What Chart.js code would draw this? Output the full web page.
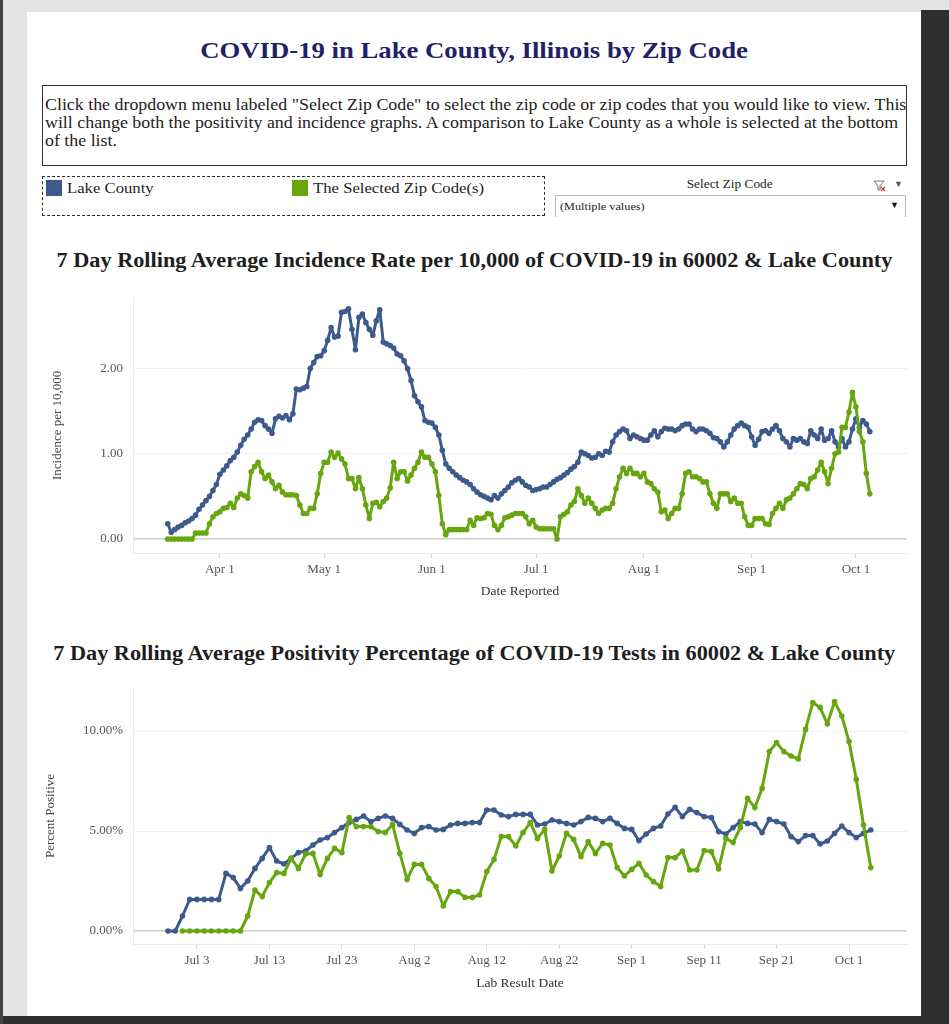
<!DOCTYPE html>
<html>
<head>
<meta charset="utf-8">
<script src="https://cdn.jsdelivr.net/npm/chart.js@4.4.1/dist/chart.umd.min.js"></script>
<style>
  body { margin: 0; width: 949px; height: 1024px; background: #e4e4e4; position: relative; overflow: hidden; font-family: "Liberation Serif", "Times New Roman", serif; }
  .abs { position: absolute; }
  .wide { display: inline-block; transform: scaleX(1.113); transform-origin: left center; white-space: nowrap; }
  .wideC { display: inline-block; transform: scaleX(1.113); transform-origin: center center; white-space: nowrap; }
  #panel { left: 27px; top: 12px; width: 894px; height: 1004px; background: #fff; }
  #rightStrip { left: 921px; top: 10px; width: 28px; height: 1014px; background: #2e2e2e; }
  #bottomStrip { left: 0; top: 1016px; width: 949px; height: 8px; background: #2e2e2e; }
  #leftStrip { left: 0; top: 0; width: 3px; height: 1024px; background: #444; }
  #mainTitle { left: 27px; width: 894px; top: 35px; text-align: center; font-size: 24px; font-weight: bold; color: #1f2266; line-height: 30px; }
  #info { left: 42px; top: 85px; width: 865px; height: 81px; border: 1px solid #333; box-sizing: border-box; overflow: hidden; }
  #infoText { left: 2px; top: 10px; font-size: 16px; line-height: 18px; color: #222; transform: scaleX(1.117); transform-origin: left top; white-space: nowrap; }
  #legendBox { left: 42px; top: 176px; width: 503px; height: 40px; border: 1px dashed #333; box-sizing: border-box; }
  .sw { width: 16px; height: 16px; }
  .lg { font-size: 15px; color: #222; line-height: 18px; }
  #zipLabel { left: 640px; width: 180px; top: 177px; text-align: center; font-size: 12px; color: #222; }
  #dropdown { left: 555px; top: 195px; width: 351px; height: 22px; border: 1px solid #bbb; border-bottom: none; box-sizing: border-box; }
  #ddText { left: 4px; top: 4px; font-size: 11px; color: #222; }
  #ddArrow { right: 6px; top: 4px; font-size: 9px; color: #111; }
  .chartTitle { left: 27px; width: 894px; text-align: center; font-size: 20px; font-weight: bold; color: #1e1e1e; line-height: 24px; }
  .chartBox { left: 30px; width: 890px; }
</style>
</head>
<body>
<div class="abs" id="panel"></div>
<div class="abs" id="rightStrip"></div>
<div class="abs" id="bottomStrip"></div>
<div class="abs" id="leftStrip"></div>

<div class="abs" id="mainTitle"><span class="wideC">COVID-19 in Lake County, Illinois by Zip Code</span></div>
<div class="abs" id="info">
  <div class="abs" id="infoText">Click the dropdown menu labeled "Select Zip Code" to select the zip code or zip codes that you would like to view. This<br>will change both the positivity and incidence graphs. A comparison to Lake County as a whole is selected at the bottom<br>of the list.</div>
</div>

<div class="abs" id="legendBox"></div>
<div class="abs sw" style="left:46px;top:180px;background:#3d5a8c;"></div>
<div class="abs lg" style="left:67px;top:179px;"><span class="wide">Lake County</span></div>
<div class="abs sw" style="left:292px;top:180px;background:#67a60f;"></div>
<div class="abs lg" style="left:313px;top:179px;"><span class="wide">The Selected Zip Code(s)</span></div>

<div class="abs" id="zipLabel"><span class="wideC">Select Zip Code</span></div>
<svg class="abs" style="left:873px;top:179px;" width="14" height="14" viewBox="0 0 14 14">
  <path d="M1 2 L11 2 L7 7 L7 11 L5 11 L5 7 Z" fill="none" stroke="#777" stroke-width="1"/>
  <path d="M8 8 L12 12 M12 8 L8 12" stroke="#d33" stroke-width="1.2"/>
</svg>
<div class="abs" style="left:894px;top:179px;font-size:9px;color:#555;">&#9660;</div>
<div class="abs" id="dropdown">
  <div class="abs" id="ddText"><span class="wide">(Multiple values)</span></div>
  <div class="abs" id="ddArrow">&#9660;</div>
</div>

<div class="abs chartTitle" style="top:248px;"><span class="wideC">7 Day Rolling Average Incidence Rate per 10,000 of COVID-19 in 60002 &amp; Lake County</span></div>
<div class="abs chartBox" style="top:280px;height:330px;"><canvas id="incChart"></canvas></div>

<div class="abs chartTitle" style="top:641px;"><span class="wideC">7 Day Rolling Average Positivity Percentage of COVID-19 Tests in 60002 &amp; Lake County</span></div>
<div class="abs chartBox" style="top:670px;height:335px;"><canvas id="posChart"></canvas></div>

<script>
// days are counted from Jan 1 2020 (Jan 1 = 0)
const incStartDay = 76; // Mar 17
const incLake = [
  0.18,0.08,0.11,0.14,0.16,0.19,0.21,0.24,0.28,0.35,
  0.40,0.45,0.50,0.57,0.64,0.76,0.81,0.86,0.92,0.96,
  1.02,1.10,1.17,1.22,1.29,1.37,1.40,1.39,1.33,1.29,
  1.24,1.41,1.44,1.42,1.45,1.40,1.47,1.76,1.75,1.77,
  1.79,2.00,2.07,2.14,2.15,2.21,2.33,2.48,2.37,2.38,
  2.66,2.67,2.70,2.46,2.22,2.60,2.64,2.54,2.46,2.39,
  2.56,2.69,2.31,2.29,2.27,2.24,2.17,2.15,2.09,2.00,
  1.86,1.68,1.61,1.55,1.39,1.37,1.36,1.31,1.22,1.04,
  0.88,0.83,0.79,0.75,0.72,0.69,0.67,0.64,0.59,0.55,
  0.52,0.50,0.48,0.46,0.51,0.48,0.53,0.57,0.61,0.66,
  0.69,0.71,0.67,0.63,0.61,0.57,0.58,0.59,0.61,0.61,
  0.64,0.67,0.70,0.72,0.75,0.78,0.82,0.85,0.90,1.02,
  1.00,0.98,0.95,0.96,1.00,0.98,1.03,1.02,1.14,1.22,
  1.26,1.29,1.27,1.18,1.22,1.20,1.18,1.16,1.16,1.22,
  1.27,1.20,1.26,1.30,1.29,1.29,1.27,1.29,1.33,1.35,
  1.35,1.29,1.26,1.29,1.29,1.27,1.24,1.19,1.18,1.14,
  1.08,1.14,1.22,1.29,1.33,1.36,1.33,1.31,1.20,1.10,
  1.17,1.26,1.27,1.24,1.29,1.33,1.27,1.18,1.14,1.08,
  1.18,1.16,1.18,1.14,1.12,1.27,1.22,1.18,1.29,1.16,
  1.18,1.27,1.14,1.08,1.18,1.08,1.14,1.29,1.41,1.31,
  1.39,1.35,1.26
];
const incZip = [
  0,0,0,0,0,0,0,0,0.07,0.07,
  0.07,0.07,0.18,0.26,0.30,0.32,0.36,0.37,0.42,0.37,
  0.48,0.53,0.51,0.48,0.79,0.85,0.90,0.79,0.71,0.75,
  0.67,0.59,0.63,0.55,0.52,0.52,0.52,0.51,0.40,0.30,
  0.30,0.36,0.36,0.53,0.77,0.90,0.90,1.02,0.96,1.01,
  0.94,0.88,0.71,0.71,0.59,0.72,0.59,0.40,0.24,0.42,
  0.43,0.38,0.44,0.48,0.60,0.90,0.71,0.79,0.79,0.68,
  0.75,0.83,0.90,1.02,0.96,0.96,0.88,0.79,0.51,0.18,
  0.05,0.11,0.11,0.11,0.11,0.11,0.11,0.22,0.16,0.25,
  0.24,0.25,0.30,0.29,0.16,0.11,0.16,0.25,0.26,0.28,
  0.30,0.30,0.30,0.26,0.18,0.22,0.14,0.12,0.12,0.12,
  0.12,0.12,0.00,0.26,0.29,0.32,0.40,0.44,0.59,0.51,
  0.42,0.48,0.42,0.36,0.30,0.34,0.36,0.36,0.42,0.59,
  0.73,0.83,0.77,0.83,0.77,0.77,0.73,0.77,0.67,0.65,
  0.59,0.55,0.32,0.34,0.24,0.30,0.36,0.36,0.53,0.77,
  0.79,0.73,0.73,0.71,0.67,0.67,0.53,0.42,0.36,0.53,
  0.53,0.53,0.44,0.48,0.42,0.42,0.26,0.16,0.16,0.24,
  0.24,0.24,0.18,0.17,0.30,0.36,0.42,0.36,0.46,0.48,
  0.53,0.59,0.65,0.64,0.59,0.71,0.73,0.81,0.90,0.79,
  0.65,0.83,1.00,1.02,1.31,1.31,1.49,1.72,1.55,1.26,
  1.14,0.77,0.53
];
const incTickDays = [91, 121, 152, 182, 213, 244, 274];
const incTickLabels = ['Apr 1', 'May 1', 'Jun 1', 'Jul 1', 'Aug 1', 'Sep 1', 'Oct 1'];
const incYTicks = [0, 1, 2];

const posStartDay = 180; // Jun 29
const posLake = [
  0,0,0.75,1.58,1.58,1.58,1.58,1.58,2.88,2.67,
  2.13,2.50,3.13,3.63,4.17,3.50,3.35,3.63,3.92,4.00,
  4.30,4.55,4.67,4.92,5.17,5.43,5.58,5.75,5.47,5.63,
  5.75,5.63,5.33,5.05,4.88,5.17,5.22,5.05,5.08,5.30,
  5.38,5.38,5.42,5.42,6.05,6.05,5.80,5.72,5.83,5.83,
  5.83,5.30,5.35,5.55,5.47,5.38,5.30,5.47,5.68,5.63,
  5.47,5.63,5.38,5.13,5.08,4.52,4.85,5.13,5.25,5.85,
  6.18,5.72,6.08,5.92,5.72,5.67,4.97,4.85,5.17,5.47,
  5.38,5.35,4.92,5.58,5.47,5.35,4.72,4.47,4.77,4.77,
  4.35,4.50,4.88,5.25,4.92,4.67,4.88,5.05
];
const posZip = [
  null,null,0,0,0,0,0,0,0,0,
  0,0.75,2.05,1.72,2.42,2.92,2.88,3.63,3.13,3.85,
  3.88,2.83,3.63,4.13,3.92,5.67,5.22,5.22,5.22,4.97,
  4.92,5.33,3.88,2.58,3.33,3.33,2.63,2.22,1.25,1.97,
  1.97,1.68,1.68,1.80,2.97,3.58,4.72,4.72,4.25,4.92,
  5.42,4.63,5.08,3.00,3.75,4.88,4.58,3.72,4.47,3.88,
  4.38,4.30,3.17,2.75,3.08,3.38,2.80,2.47,2.22,3.67,
  3.67,4.00,3.05,3.05,4.02,3.97,3.10,4.63,4.42,5.18,
  6.63,6.17,7.13,8.97,9.42,8.97,8.75,8.60,10.08,11.42,
  11.18,10.35,11.47,10.75,9.47,7.58,5.30,3.17
];
const posTickDays = [184, 194, 204, 214, 224, 234, 244, 254, 264, 274];
const posTickLabels = ['Jul 3', 'Jul 13', 'Jul 23', 'Aug 2', 'Aug 12', 'Aug 22', 'Sep 1', 'Sep 11', 'Sep 21', 'Oct 1'];
const posYTicks = [0, 5, 10];

const lakeColor = '#3d5a8c';
const zipColor = '#67a60f';
const serif = '"Liberation Serif", "Times New Roman", serif';

function toPoints(start, values) {
  return values.map((v, i) => ({ x: start + i, y: v }));
}

function series(label, color, points, order) {
  return {
    label: label,
    data: points,
    borderColor: color,
    backgroundColor: color,
    borderWidth: 3,
    borderJoinStyle: 'round',
    borderCapStyle: 'round',
    pointRadius: 2.8,
    pointBorderWidth: 0,
    pointBackgroundColor: color,
    tension: 0,
    order: order,
    spanGaps: false
  };
}

function makeChart(id, cfg) {
  return new Chart(document.getElementById(id).getContext('2d'), {
    type: 'line',
    data: {
      datasets: [
        series('Lake County', lakeColor, cfg.lake, 1),
        series('The Selected Zip Code(s)', zipColor, cfg.zip, 0)
      ]
    },
    options: {
      responsive: true,
      maintainAspectRatio: false,
      animation: false,
      layout: { padding: { top: cfg.padTop, right: 13, left: 0, bottom: 0 } },
      plugins: { legend: { display: false }, tooltip: { enabled: false } },
      scales: {
        x: {
          type: 'linear',
          min: cfg.xMin,
          max: cfg.xMax,
          afterBuildTicks: s => { s.ticks = cfg.tickDays.map(v => ({ value: v })); },
          afterFit: s => { s.height = cfg.xHeight; },
          ticks: {
            autoSkip: false,
            maxRotation: 0,
            padding: 4,
            color: '#555',
            font: { family: serif, size: 13 },
            callback: v => cfg.tickLabels[cfg.tickDays.indexOf(v)]
          },
          grid: { drawOnChartArea: false, drawTicks: true, tickLength: 5, color: '#d8d8d8' },
          border: { display: true, color: '#ececec' },
          title: {
            display: true,
            text: cfg.xTitle,
            color: '#333',
            font: { family: serif, size: 13.5 },
            padding: { top: 0, bottom: cfg.xTitlePad }
          }
        },
        y: {
          type: 'linear',
          min: cfg.yMin,
          max: cfg.yMax,
          afterBuildTicks: s => { s.ticks = cfg.yTicks.map(v => ({ value: v })); },
          afterFit: s => { s.width = 103; },
          ticks: {
            padding: 10,
            color: '#555',
            font: { family: serif, size: 13 },
            callback: v => v.toFixed(2) + cfg.ySuffix
          },
          grid: {
            drawTicks: false,
            color: c => c.tick && c.tick.value === 0 ? '#cfcfcf' : '#f1f1f1',
            lineWidth: c => c.tick && c.tick.value === 0 ? 1.5 : 1
          },
          border: { display: true, color: '#ececec' },
          title: {
            display: true,
            text: cfg.yTitle,
            color: '#444',
            font: { family: serif, size: 13 },
            padding: { top: cfg.yTitlePad, bottom: 0 }
          }
        }
      }
    }
  });
}

makeChart('incChart', {
  lake: toPoints(incStartDay, incLake),
  zip: toPoints(incStartDay, incZip),
  tickDays: incTickDays,
  tickLabels: incTickLabels,
  yTicks: incYTicks,
  xMin: 66.0, xMax: 288.7,
  yMin: -0.164, yMax: 2.83,
  padTop: 17, xHeight: 57, xTitlePad: 10,
  xTitle: 'Date Reported',
  yTitle: 'Incidence per 10,000', yTitlePad: 20,
  ySuffix: ''
});

makeChart('posChart', {
  lake: toPoints(posStartDay, posLake),
  zip: toPoints(posStartDay, posZip),
  tickDays: posTickDays,
  tickLabels: posTickLabels,
  yTicks: posYTicks,
  xMin: 175.17, xMax: 282.0,
  yMin: -0.65, yMax: 12.15,
  padTop: 18, xHeight: 61, xTitlePad: 13,
  xTitle: 'Lab Result Date',
  yTitle: 'Percent Positive', yTitlePad: 13,
  ySuffix: '%'
});
</script>
</body>
</html>
